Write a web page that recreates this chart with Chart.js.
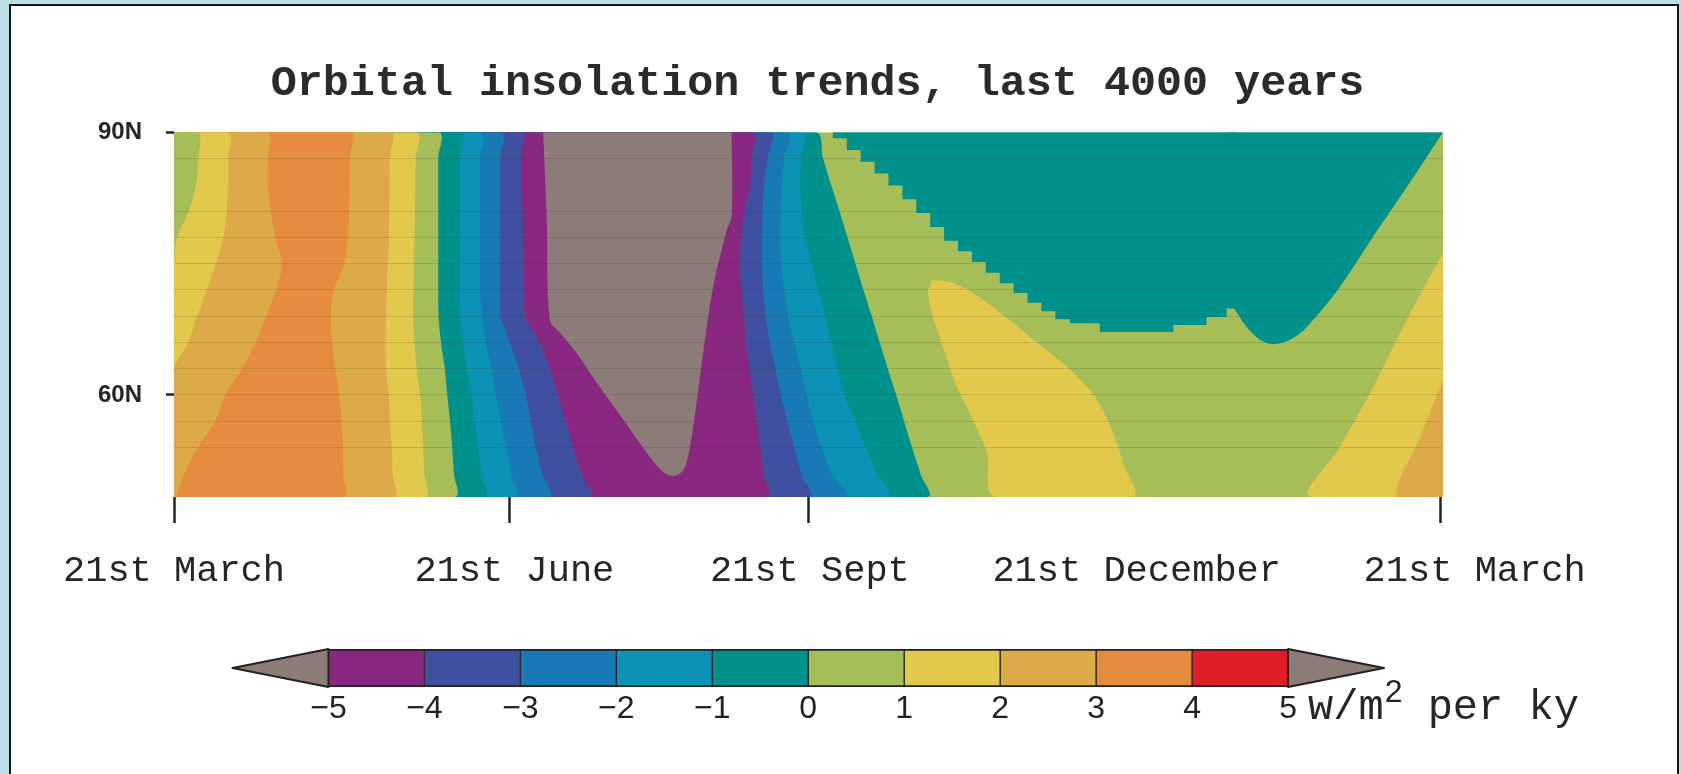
<!DOCTYPE html>
<html>
<head>
<meta charset="utf-8">
<title>Orbital insolation trends, last 4000 years</title>
<script src="https://cdn.jsdelivr.net/npm/chart.js@4.4.1/dist/chart.umd.min.js"></script>
<style>
  html, body { margin: 0; padding: 0; }
  body { width: 1681px; height: 774px; background: #bde0e6; position: relative; overflow: hidden; }
  #frame { position: absolute; left: 9px; top: 4px; width: 1670px; height: 800px; box-sizing: border-box;
           border: 2.5px solid #151515; background: #fff; }
  canvas { position: absolute; left: 0; }
  #field { top: 0; }
  #scale { top: 600px; }
</style>
</head>
<body>
<div id="frame"></div>
<canvas id="field" width="1681" height="600"></canvas>
<canvas id="scale" width="1681" height="174"></canvas>
<script>
// Contour levels (W/m2 per ky) and the colour of each band they bound
const levels = [-5, -4, -3, -2, -1, 0, 1, 2, 3, 4, 5];
const bandColors = ['#8b7c77', '#8a2781', '#3f50a0', '#177ab4', '#0b92b6', '#00918c',
                    '#a6be58', '#e2c84b', '#ddaa48', '#e58c3e', '#e01e28', '#8b7c77'];

// Time axis: days after the March equinox
const dayMin = 0, dayMax = 365;
const tickDays = [0, 96.4, 182.4, 364.2];
const labelDays = [0, 97.9, 182.9, 276.9, 374.1];
const dateLabels = ['21st March', '21st June', '21st Sept', '21st December', '21st March'];

// Latitude axis
const latMin = 48.35, latMax = 90;
const latTicks = [60, 90];
const latRows = [90, 87, 84, 81, 78, 75, 72, 69, 66, 63, 60, 57, 54, 51, 48.35];
const rowLines = [87, 81, 78, 75, 72, 69, 66, 63, 60, 57, 54];

// Day on which each contour crosses each latitude of latRows
const c1Spring  = [7.0, 7.0, 6.3, 4.3, 0.9, 0, 0, 0, 0, 0, 0, 0, 0, 0, 0];
const c2Spring  = [15.6, 15.6, 15.6, 15.2, 14.2, 12.0, 9.4, 6.7, 4.0, 0, 0, 0, 0, 0, 0];
const c3Spring  = [26.8, 27.0, 27.0, 27.8, 29.1, 31.0, 29.3, 26.5, 23.5, 19.5, 14.7, 11.8, 6.9, 2.9, 0.6];
const c3Summer  = [50.6, 50.6, 50.5, 50.4, 50.0, 49.0, 46.0, 45.1, 45.5, 46.4, 47.5, 48.2, 48.6, 48.7, 48.7];
const c2Summer  = [62.1, 62.1, 62.0, 61.9, 61.8, 61.5, 61.2, 61.0, 60.8, 61.0, 61.8, 62.1, 62.6, 62.9, 63.1];
const c1Summer  = [69.6, 69.5, 69.4, 69.3, 69.2, 69.0, 68.9, 68.8, 69.2, 69.8, 70.8, 71.3, 71.7, 72.0, 72.2];
const c0Summer  = [76.0, 76.0, 76.0, 76.0, 76.0, 76.0, 76.0, 76.1, 76.8, 77.9, 78.6, 79.4, 80.0, 80.5, 80.8];
const cm1Summer = [82.3, 82.3, 82.3, 82.3, 82.3, 82.3, 82.3, 82.3, 83.1, 84.2, 85.5, 86.5, 87.5, 88.4, 89.2];
const cm2Summer = [88.0, 88.0, 88.0, 88.0, 88.0, 88.0, 88.0, 88.6, 89.7, 91.3, 92.6, 94.0, 95.5, 97.0, 97.8];
const cm3Summer = [93.8, 93.8, 93.8, 93.8, 93.8, 93.8, 93.8, 94.0, 96.6, 99.2, 101.2, 102.6, 104.1, 105.9, 107.7];
const cm4Summer = [99.5, 99.8, 100.0, 100.2, 100.4, 100.6, 100.8, 101.0, 105.2, 108.1, 110.4, 112.6, 114.9, 117.1, 119.6];
const cm4Autumn = [166.2, 166.0, 165.7, 164.1, 163.1, 162.8, 163.1, 163.9, 164.5, 165.5, 166.6, 167.6, 168.6, 169.6, 170.5];
const cm3Autumn = [171.4, 170.7, 169.7, 169.3, 169.1, 169.1, 169.5, 170.2, 171.4, 173.0, 174.5, 176.4, 178.4, 180.4, 182.7];
const cm2Autumn = [176.2, 175.5, 174.8, 174.5, 174.3, 174.6, 175.5, 176.7, 178.4, 180.3, 182.0, 183.9, 186.3, 189.2, 193.3];
const cm1Autumn = [180.5, 180.3, 180.1, 180.5, 181.5, 183.4, 185.3, 187.3, 189.0, 190.9, 192.8, 195.9, 199.0, 202.1, 205.5];
const c0Autumn  = [184.4, 186.7, 189.0, 191.4, 193.7, 196.0, 198.3, 200.7, 203.0, 205.3, 207.7, 210.0, 212.3, 214.7, 216.7];

// Closed -5 contour around the summer minimum
const cm5Days = [106.2, 107.2, 108.1, 111.0, 115.8, 121.6, 129.2, 136.0, 140.7, 143.6, 146.5, 148.4, 150.3, 152.2, 155.1, 159.0, 160.4, 160.4];
const cm5Lats = [90, 80.0, 68.6, 67.1, 64.8, 61.4, 57.2, 53.4, 51.2, 50.75, 51.4, 54.1, 59.1, 64.8, 72.4, 78.8, 80.4, 90];

// 0 contour bounding the high-latitude winter region, one run of grid cells per entry
// (each latitude holds from the previous day up to the listed day)
const c0WinterDays = [189.5, 193.5, 197.5, 201.5, 205.5, 209.5, 213.5, 217.5, 221.5, 225.5, 229.5, 233.5, 237.5,
                      241.5, 245.5, 249.5, 253.5, 257.7, 266.3, 287.4, 297.0, 302.8, 305.5, 305.5];
const c0WinterLats = [90, 89.33, 87.98, 86.63, 85.28, 83.93, 82.36, 80.77, 79.18, 77.6, 76.4, 75.18, 73.97,
                      72.76, 71.65, 70.54, 69.57, 68.66, 68.2, 67.2, 68.0, 68.9, 69.9, 90];
// 0 contour, smooth lobe towards the following spring
const c0LobeDays = [303.5, 303.5, 304.7, 305.7, 308.5, 312.4, 316.1, 321.0, 325.9, 335.4, 344.9, 354.7, 365];
const c0LobeLats = [90, 69.9, 69.9, 69.4, 67.8, 66.3, 65.8, 66.3, 67.8, 72.4, 78.1, 83.8, 90];

// Closed +1 contour in autumn
const c1AutumnDays = [218.0, 223.2, 229.8, 239.6, 249.1, 258.6, 265.5, 270.1, 273.0, 275.8, 236.1, 233.8, 229.8, 225.2, 221.8, 219.5, 217.4, 216.9];
const c1AutumnLats = [73.13, 72.9, 71.65, 68.8, 65.7, 62.6, 59.4, 55.7, 52.2, 48.35, 48.35, 53.4, 57.15, 60.9, 64.8, 67.4, 70.3, 72.0];

// +1 and +2 contours approaching the next March equinox
const c1LateDays = [365, 354.6, 344.9, 335.4, 326.7, 365];
const c1LateLats = [76.2, 68.6, 60.9, 54.1, 48.35, 48.35];
const c2LateDays = [365, 358.4, 351.8, 365];
const c2LateLats = [61.7, 55.2, 48.35, 48.35];

// ---------------------------------------------------------------------------

const bandColor = v => { let i = 0; while (i < levels.length && v >= levels[i]) i++; return bandColors[i]; };
const pts = (days, lats) => days.map((d, i) => ({ x: d, y: lats[i] }));
// area lying west (earlier in the year) of a contour
const westOf = edge => [{ x: dayMin, y: latMax }, ...pts(edge, latRows), { x: dayMin, y: latMin }];

// painted in order; each later layer covers the earlier ones
const layers = [
  { data: pts([dayMin, dayMax, dayMax, dayMin], [latMax, latMax, latMin, latMin]), v: 0.5 },
  { data: westOf(c0Autumn), v: -0.5 },
  { data: westOf(cm1Autumn), v: -1.5 },
  { data: westOf(cm2Autumn), v: -2.5 },
  { data: westOf(cm3Autumn), v: -3.5 },
  { data: westOf(cm4Autumn), v: -4.5 },
  { data: westOf(cm4Summer), v: -3.5 },
  { data: westOf(cm3Summer), v: -2.5 },
  { data: westOf(cm2Summer), v: -1.5 },
  { data: westOf(cm1Summer), v: -0.5 },
  { data: westOf(c0Summer), v: 0.5 },
  { data: westOf(c1Summer), v: 1.5 },
  { data: westOf(c2Summer), v: 2.5 },
  { data: westOf(c3Summer), v: 3.5 },
  { data: westOf(c3Spring), v: 2.5 },
  { data: westOf(c2Spring), v: 1.5 },
  { data: westOf(c1Spring), v: 0.5 },
  { data: pts(cm5Days, cm5Lats), v: -5.5 },
  { data: pts(c0WinterDays, c0WinterLats), v: -0.5, stepped: 'after' },
  { data: pts(c0LobeDays, c0LobeLats), v: -0.5 },
  { data: pts(c1AutumnDays, c1AutumnLats), v: 1.5 },
  { data: pts(c1LateDays, c1LateLats), v: 1.5 },
  { data: pts(c2LateDays, c2LateLats), v: 2.5 }
];

const datasets = layers.map((L, i) => ({
  data: L.data,
  order: -i,
  fill: 'shape',
  backgroundColor: bandColor(L.v),
  borderColor: 'rgba(0,0,0,0)',
  borderWidth: 0,
  pointRadius: 0,
  tension: L.stepped ? 0 : 0.35,
  stepped: L.stepped || false
}));

const dateLabelPlugin = {
  id: 'dateLabels',
  afterDraw(chart) {
    const { ctx, chartArea, scales: { x } } = chart;
    ctx.save();
    ctx.font = '37px "Liberation Mono", monospace';
    ctx.fillStyle = '#262626';
    ctx.textAlign = 'center';
    ctx.textBaseline = 'alphabetic';
    dateLabels.forEach((t, i) => ctx.fillText(t, x.getPixelForValue(labelDays[i]), chartArea.bottom + 84));
    ctx.restore();
  }
};

const scaleEndsPlugin = {
  id: 'scaleEnds',
  afterDatasetsDraw(chart) {
    const { ctx, chartArea: { top, bottom }, scales: { x } } = chart;
    const mid = (top + bottom) / 2;
    const lo = levels[0], hi = levels[levels.length - 1];
    ctx.save();
    ctx.fillStyle = bandColors[0];
    ctx.strokeStyle = '#222';
    ctx.lineWidth = 2;
    ctx.lineJoin = 'round';
    [[lo, lo - 1], [hi, hi + 1]].forEach(([base, tip]) => {
      ctx.beginPath();
      ctx.moveTo(x.getPixelForValue(base), top);
      ctx.lineTo(x.getPixelForValue(tip), mid);
      ctx.lineTo(x.getPixelForValue(base), bottom);
      ctx.closePath();
      ctx.fill();
      ctx.stroke();
    });
    // units, to the right of the last tick label
    const ux = x.getPixelForValue(hi) + 20, uy = bottom + 32;
    ctx.fillStyle = '#262626';
    ctx.textBaseline = 'alphabetic';
    ctx.textAlign = 'left';
    ctx.font = '42px "Liberation Mono", monospace';
    ctx.fillText('w/m', ux, uy);
    const w1 = ctx.measureText('w/m').width;
    ctx.font = '32px "Liberation Sans", sans-serif';
    ctx.fillText('2', ux + w1 + 1, uy - 17);
    const w2 = ctx.measureText('2').width;
    ctx.font = '42px "Liberation Mono", monospace';
    ctx.fillText(' per ky', ux + w1 + w2 + 1, uy);
    ctx.restore();
  }
};

function draw() {
  new Chart(document.getElementById('field'), {
    type: 'line',
    data: { datasets },
    options: {
      responsive: false, animation: false, events: [], devicePixelRatio: 1,
      layout: { padding: { left: 60, right: 106, top: 0, bottom: 0 } },
      plugins: {
        legend: { display: false },
        tooltip: { enabled: false },
        title: {
          display: true,
          text: 'Orbital insolation trends, last 4000 years',
          color: '#2b2b2b',
          font: { family: '"Liberation Mono", monospace', size: 43.4, weight: 'bold', lineHeight: 1.2 },
          padding: { top: 58.5, bottom: 21.7 }
        }
      },
      scales: {
        x: {
          type: 'linear', min: dayMin, max: dayMax, position: 'bottom',
          afterBuildTicks: s => { s.ticks = tickDays.map(v => ({ value: v })); },
          ticks: { display: false },
          grid: { drawOnChartArea: false, drawTicks: true, tickLength: 26, tickWidth: 2.5, tickColor: '#222' },
          border: { display: false },
          afterFit: s => { s.height = 103; }
        },
        y: {
          type: 'linear', min: latMin, max: latMax, position: 'left',
          afterBuildTicks: s => { s.ticks = latTicks.map(v => ({ value: v })); },
          ticks: { callback: v => v + 'N', color: '#262626', padding: 24,
                   font: { family: '"Liberation Sans", sans-serif', size: 24, weight: 'bold' } },
          grid: { drawOnChartArea: false, tickLength: 8, tickWidth: 2.5, tickColor: '#222' },
          border: { display: false },
          afterFit: s => { s.width = 114; }
        },
        yRows: {
          type: 'linear', min: latMin, max: latMax, position: 'right', z: 1,
          afterBuildTicks: s => { s.ticks = rowLines.map(v => ({ value: v })); },
          ticks: { display: false },
          grid: { z: 1, drawOnChartArea: true, drawTicks: false, color: 'rgba(50,50,20,0.14)', lineWidth: 1 },
          border: { display: false },
          afterFit: s => { s.width = 132; }
        }
      }
    },
    plugins: [dateLabelPlugin]
  });

  new Chart(document.getElementById('scale'), {
    type: 'bar',
    data: {
      labels: ['bands'],
      datasets: levels.slice(0, -1).map((lo, i) => ({
        data: [[lo, levels[i + 1]]],
        backgroundColor: bandColors[i + 1],
        borderColor: '#222',
        borderWidth: { top: 2, bottom: 2, left: 1, right: 1 },
        borderSkipped: false,
        grouped: false,
        barPercentage: 1,
        categoryPercentage: 1
      }))
    },
    options: {
      indexAxis: 'y', responsive: false, animation: false, events: [], devicePixelRatio: 1,
      layout: { padding: { left: 232.5, right: 297, top: 49, bottom: 42 } },
      plugins: { legend: { display: false }, tooltip: { enabled: false } },
      scales: {
        x: {
          type: 'linear', min: levels[0] - 1, max: levels[levels.length - 1] + 1,
          afterBuildTicks: s => { s.ticks = levels.map(v => ({ value: v })); },
          ticks: { callback: v => (v < 0 ? '\u2212' : '') + Math.abs(v), color: '#222', padding: 3,
                   font: { family: '"Liberation Sans", sans-serif', size: 32 } },
          grid: { display: false, drawTicks: false },
          border: { display: false },
          afterFit: s => { s.height = 45; }
        },
        y: { display: false }
      }
    },
    plugins: [scaleEndsPlugin]
  });
}

const fontsReady = document.fonts && document.fonts.load
  ? Promise.all([
      document.fonts.load('bold 42px "Liberation Mono"'),
      document.fonts.load('37px "Liberation Mono"'),
      document.fonts.load('27px "Liberation Sans"'),
      document.fonts.load('bold 24px "Liberation Sans"')
    ]).catch(() => {})
  : Promise.resolve();
fontsReady.then(draw);
</script>
</body>
</html>
